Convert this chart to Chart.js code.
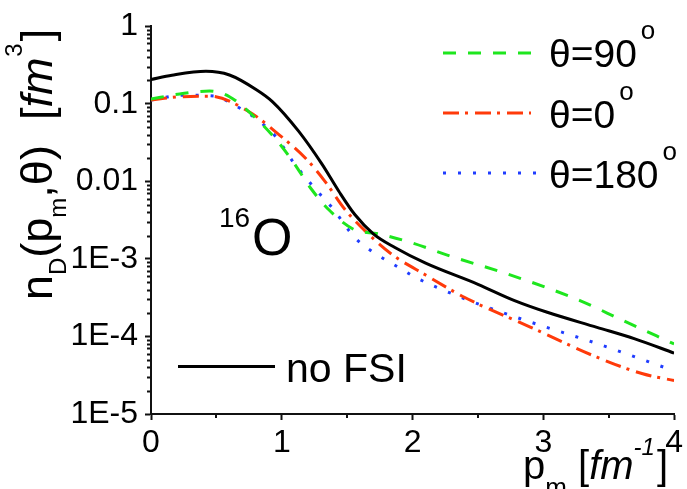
<!DOCTYPE html>
<html><head><meta charset="utf-8">
<script src="https://cdn.jsdelivr.net/npm/chart.js@4.4.0/dist/chart.umd.min.js"></script>
<style>html,body{margin:0;padding:0;background:#fff}canvas{display:block}</style>
</head><body>
<canvas id="c" width="687" height="489"></canvas>
<script>
// ---- data ----
const xNoFSI = [0, 0.16, 0.42, 0.6, 0.8, 0.93, 1.13, 1.31, 1.435, 1.56, 1.7, 1.865, 2.1, 2.5, 2.78, 3.03, 3.41, 3.7, 4.0];
const yNoFSI = [0.205, 0.233, 0.262, 0.235, 0.154, 0.106, 0.044, 0.0164, 0.0075, 0.0037, 0.0021, 0.0014, 8.8e-4, 4.7e-4, 2.9e-4, 2.05e-4, 1.31e-4, 9.3e-5, 6.1e-5];

const x90 = [0, 0.22, 0.448, 0.6, 0.815, 0.98, 1.093, 1.22, 1.36, 1.55, 1.74, 1.99, 2.3, 2.725, 3.28, 3.6, 4.0];
const y90 = [0.115, 0.134, 0.146, 0.123, 0.062, 0.031, 0.0172, 0.0082, 0.0043, 0.0024, 0.0021, 1.62e-3, 1.07e-3, 6.4e-4, 2.9e-4, 1.63e-4, 8.0e-5];

const x0 = [0, 0.22, 0.45, 0.75, 0.98, 1.18, 1.33, 1.485, 1.637, 1.84, 2.1, 2.396, 2.9, 3.41, 3.76, 4.0];
const y0 = [0.112, 0.123, 0.125, 0.079, 0.0398, 0.02, 0.01, 0.0043, 0.0023, 1.15e-3, 6.2e-4, 3.2e-4, 1.32e-4, 5.4e-5, 3.3e-5, 2.7e-5];

const x180 = [0, 0.245, 0.5, 0.6, 0.815, 0.954, 1.093, 1.283, 1.384, 1.56, 1.687, 1.915, 2.02, 2.37, 2.826, 3.41, 4.0];
const y180 = [0.112, 0.129, 0.125, 0.104, 0.062, 0.0377, 0.0172, 0.0071, 0.0046, 1.87e-3, 1.26e-3, 7.4e-4, 5.8e-4, 3.2e-4, 1.69e-4, 8.1e-5, 3.6e-5];

const xTickValues = [0, 1, 2, 3, 4];
const xTickLabels = ['0', '1', '2', '3', '4'];
const xMinorValues = [0.5, 1.5, 2.5, 3.5];
const yTickValues = [1e-5, 1e-4, 1e-3, 1e-2, 1e-1, 1];
const yTickLabels = ['1E-5', '1E-4', '1E-3', '0.01', '0.1', '1'];
const yMinorFactors = [2, 3, 4, 5, 6, 7, 8, 9];

const seriesLabels = ['\u03B8=90', '\u03B8=0', '\u03B8=180', 'no FSI'];

// ---- styles ----
const FONT = "'Liberation Sans', Arial, sans-serif";
const GREEN = '#1ee61e', RED = '#ff3a0a', BLUE = '#1f3cff', BLACK = '#000000';
const DASH90 = [13, 12], DASH0 = [16, 6, 3, 7], DASH180 = [3, 12];

function pts(xs, ys) { return xs.map((x, i) => ({ x: x, y: ys[i] })); }

function drawRuns(ctx, x, y, runs) {
  let cx = x;
  for (const r of runs) {
    ctx.font = (r.italic ? 'italic ' : '') + r.size + 'px ' + FONT;
    ctx.fillText(r.t, cx + (r.dx || 0), y + (r.dy || 0));
    cx += ctx.measureText(r.t).width + (r.dx || 0) + (r.after || 0);
  }
  return cx;
}

const annot = {
  id: 'annot',
  beforeDraw(chart) {
    const c = chart.ctx; c.save(); c.fillStyle = '#fff'; c.fillRect(0, 0, chart.width, chart.height); c.restore();
  },
  afterDraw(chart) {
    const c = chart.ctx;
    const xs = chart.scales.x, ys = chart.scales.y;
    c.save();
    // minor ticks
    c.strokeStyle = '#111'; c.lineWidth = 2; c.setLineDash([]);
    c.beginPath();
    for (const v of xMinorValues) {
      const px = Math.round(xs.getPixelForValue(v));
      c.moveTo(px, xs.top); c.lineTo(px, xs.top + 4);
    }
    for (let k = -5; k < 0; k++) {
      for (const m of yMinorFactors) {
        const py = Math.round(ys.getPixelForValue(m * Math.pow(10, k))) + 0.5;
        c.moveTo(ys.right, py); c.lineTo(ys.right - 4, py);
      }
    }
    c.stroke();

    c.fillStyle = '#000';
    c.textBaseline = 'alphabetic';
    c.textAlign = 'left';

    // y title (rotated)
    c.save();
    c.translate(52, 300);
    c.rotate(-Math.PI / 2);
    drawRuns(c, 0, 0, [
      { t: 'n', size: 45 },
      { t: 'D', size: 24, dy: 14 },
      { t: '(p', size: 45 },
      { t: 'm', size: 24, dy: 14 },
      { t: ',\u03B8)', size: 45 },
      { t: '  [', size: 45 },
      { t: 'fm', size: 45, italic: true },
      { t: '3', size: 24, dy: -30, dx: 1 },
      { t: ']', size: 45, dx: 2 }
    ]);
    c.restore();

    // x title
    drawRuns(c, 523, 479, [
      { t: 'p', size: 40 },
      { t: 'm', size: 26, dy: 17 },
      { t: ' [', size: 40 },
      { t: 'fm', size: 40, italic: true },
      { t: '-1', size: 24, dy: -24, italic: true },
      { t: ']', size: 40, dx: 2 }
    ]);

    // legend
    const leg = [
      { color: GREEN, dash: DASH90, y: 53, base: 67, x1: 443, x2: 531, label: seriesLabels[0] },
      { color: RED, dash: DASH0, y: 113, base: 127.5, x1: 443, x2: 531, label: seriesLabels[1] },
      { color: BLUE, dash: DASH180, y: 173, base: 188, x1: 443, x2: 537, label: seriesLabels[2] }
    ];
    for (const L of leg) {
      c.strokeStyle = L.color; c.lineWidth = 3; c.setLineDash(L.dash); c.lineCap = 'butt';
      c.beginPath(); c.moveTo(L.x1, L.y); c.lineTo(L.x2, L.y); c.stroke();
      c.setLineDash([]);
      c.font = '39px ' + FONT;
      c.fillText(L.label, 549, L.base);
      const w = c.measureText(L.label).width;
      c.font = '26px ' + FONT;
      c.fillText('o', 549 + w + 4, L.base - 28);
    }
    // no FSI
    c.strokeStyle = BLACK; c.lineWidth = 3; c.setLineDash([]);
    c.beginPath(); c.moveTo(178, 366.5); c.lineTo(275, 366.5); c.stroke();
    c.font = '41px ' + FONT;
    c.fillText(seriesLabels[3], 286, 382);

    // 16O
    c.font = '28px ' + FONT; c.fillText('16', 219, 227);
    c.font = '52px ' + FONT; c.fillText('O', 252, 255);
    c.restore();
  }
};

const ds = (label, xs, ys, color, dash) => ({
  label: label, data: pts(xs, ys), borderColor: color, backgroundColor: color,
  borderWidth: 3, borderDash: dash, pointRadius: 0, fill: false,
  cubicInterpolationMode: 'monotone', borderCapStyle: 'butt'
});

new Chart(document.getElementById('c'), {
  type: 'line',
  data: {
    datasets: [
      ds(seriesLabels[3], xNoFSI, yNoFSI, BLACK, []),
      ds(seriesLabels[0], x90, y90, GREEN, DASH90),
      ds(seriesLabels[1], x0, y0, RED, DASH0),
      ds(seriesLabels[2], x180, y180, BLUE, DASH180)
    ]
  },
  options: {
    responsive: false, animation: false, events: [],
    layout: { padding: { left: 0, right: 8, top: 24, bottom: 0 }, autoPadding: false },
    plugins: { legend: { display: false }, tooltip: { enabled: false }, title: { display: false } },
    scales: {
      x: {
        type: 'linear', position: 'bottom', min: 0, max: 4,
        afterBuildTicks(scale) { scale.ticks = xTickValues.map(v => ({ value: v })); },
        afterFit(scale) { scale.height = 75; },
        ticks: {
          autoSkip: false, maxRotation: 0, padding: 4, color: '#000',
          font: { family: FONT, size: 32 },
          callback(value) { const i = xTickValues.indexOf(value); return i >= 0 ? xTickLabels[i] : ''; }
        },
        grid: { drawOnChartArea: false, drawTicks: true, tickLength: 6, tickWidth: 2, tickColor: '#111' },
        border: { display: true, color: '#111', width: 2 }
      },
      y: {
        type: 'logarithmic', position: 'left', min: 1e-5, max: 1,
        afterBuildTicks(scale) { scale.ticks = yTickValues.map(v => ({ value: v })); },
        afterFit(scale) { scale.width = 151; },
        ticks: {
          autoSkip: false, padding: 7, color: '#000',
          font: { family: FONT, size: 32 },
          callback(value) {
            const i = yTickValues.findIndex(v => Math.abs(Math.log10(v) - Math.log10(value)) < 1e-6);
            return i >= 0 ? yTickLabels[i] : '';
          }
        },
        grid: { drawOnChartArea: false, drawTicks: true, tickLength: 6, tickWidth: 2, tickColor: '#111' },
        border: { display: true, color: '#111', width: 2 }
      }
    }
  },
  plugins: [annot]
});
</script>
</body></html>
